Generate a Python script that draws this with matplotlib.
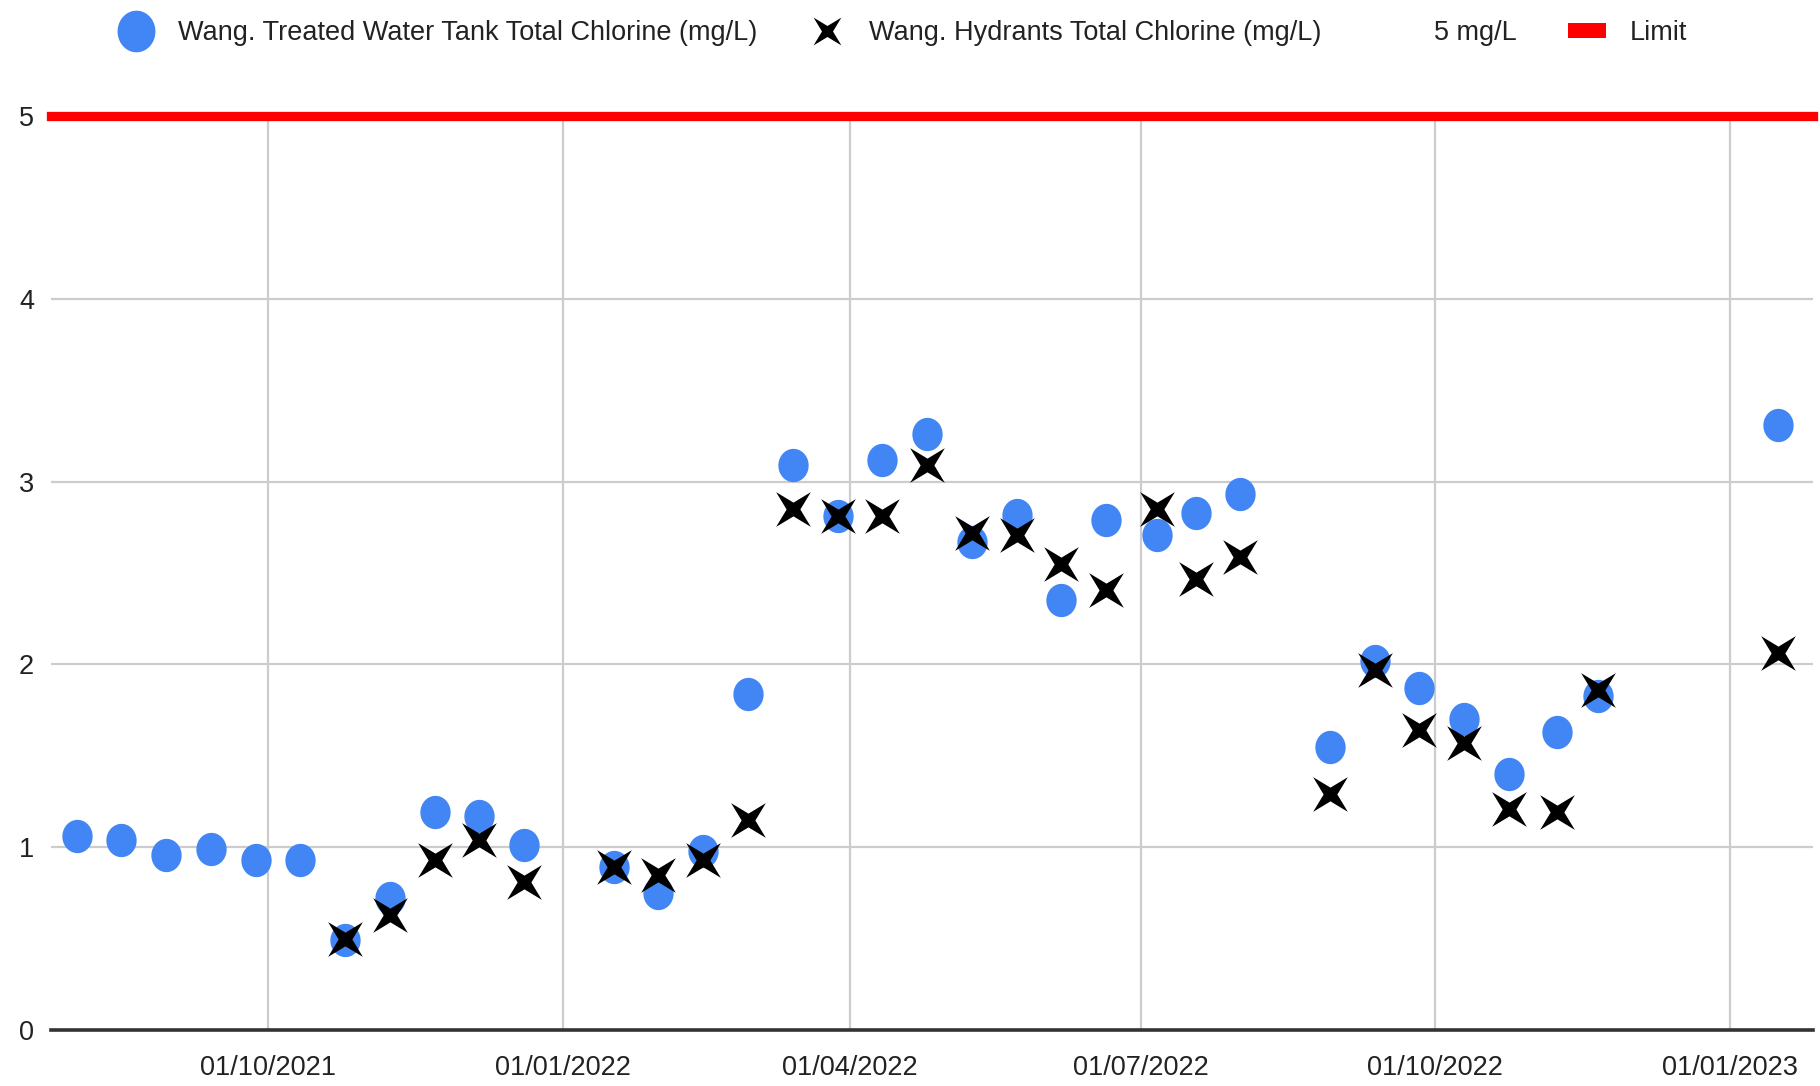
import numpy as np
import pandas as pd
import matplotlib
matplotlib.use("Agg")
import matplotlib.pyplot as plt
import matplotlib.dates as mdates
from matplotlib.path import Path
from matplotlib.lines import Line2D
from matplotlib.patches import Patch

plt.rcParams['font.family'] = ['Liberation Sans', 'DejaVu Sans']

# ---------------- data ----------------
sample_dates = [
    "2021-08-02", "2021-08-16", "2021-08-30", "2021-09-13", "2021-09-27",
    "2021-10-11", "2021-10-25", "2021-11-08", "2021-11-22", "2021-12-06",
    "2021-12-20", "2022-01-17", "2022-01-31", "2022-02-14", "2022-02-28",
    "2022-03-14", "2022-03-28", "2022-04-11", "2022-04-25", "2022-05-09",
    "2022-05-23", "2022-06-06", "2022-06-20", "2022-07-06", "2022-07-18",
    "2022-08-01", "2022-08-29", "2022-09-12", "2022-09-26", "2022-10-10",
    "2022-10-24", "2022-11-08", "2022-11-21", "2023-01-16",
]
tank_chlorine = [
    1.06, 1.04, 0.96, 0.99, 0.93,
    0.93, 0.49, 0.72, 1.19, 1.17,
    1.01, 0.89, 0.75, 0.98, 1.84,
    3.09, 2.81, 3.12, 3.26, 2.67,
    2.82, 2.35, 2.79, 2.71, 2.83,
    2.93, 1.55, 2.02, 1.87, 1.70,
    1.40, 1.63, 1.83, 3.31,
]
hydrant_chlorine = [
    np.nan, np.nan, np.nan, np.nan, np.nan,
    np.nan, 0.50, 0.63, 0.93, 1.04,
    0.81, 0.89, 0.85, 0.93, 1.15,
    2.85, 2.81, 2.81, 3.09, 2.72,
    2.71, 2.55, 2.41, 2.85, 2.47,
    2.59, 1.29, 1.97, 1.64, 1.57,
    1.21, 1.19, 1.86, 2.06,
]
limit_value = 5
x_ticks = ["2021-10-01", "2022-01-01", "2022-04-01", "2022-07-01", "2022-10-01", "2023-01-01"]
y_ticks = [0, 1, 2, 3, 4, 5]
x_range = ["2021-07-25", "2023-01-27"]
series_labels = ["Wang. Treated Water Tank Total Chlorine (mg/L)",
                 "Wang. Hydrants Total Chlorine (mg/L)", "5 mg/L", "Limit"]

dates = pd.to_datetime(sample_dates)

# ---------------- styles ----------------
BLUE = "#4285F4"
RED = "#FF0000"
GRID = "#CCCCCC"
TEXT = "#222222"
FS = 19.5

# 4-point star "X" marker
r_in = 0.28
verts = []
for k in range(4):
    a_tip = np.deg2rad(45 + 90 * k)
    a_in = np.deg2rad(90 + 90 * k)
    verts.append((np.cos(a_tip), np.sin(a_tip)))
    verts.append((r_in * np.cos(a_in), r_in * np.sin(a_in)))
verts.append(verts[0])
codes = [Path.MOVETO] + [Path.LINETO] * (len(verts) - 2) + [Path.CLOSEPOLY]
star_x = Path(verts, codes)

# slightly tall ellipse marker
th = np.linspace(0, 2 * np.pi, 61)
ell = Path(np.column_stack([np.cos(th), 1.1 * np.sin(th)]), closed=True)

fig = plt.figure(figsize=(18.2, 10.86), dpi=100)
ax = fig.add_axes([0.028, 0.0516, 0.968, 0.8414])

ax.plot(dates, tank_chlorine, linestyle="none", marker=ell, markersize=24,
        markerfacecolor=BLUE, markeredgecolor=BLUE, markeredgewidth=0, zorder=3)
ax.plot(dates, hydrant_chlorine, linestyle="none", marker=star_x, markersize=25,
        markerfacecolor="black", markeredgewidth=0, zorder=4)
ax.axhline(limit_value, color=RED, linewidth=6.7, zorder=5, clip_on=False)

ax.set_xlim(pd.to_datetime(x_range[0]), pd.to_datetime(x_range[1]))
ax.set_ylim(0, 5)
ax.set_yticks(y_ticks)
ax.set_yticklabels([str(v) for v in y_ticks])
ax.set_xticks(pd.to_datetime(x_ticks))
ax.xaxis.set_major_formatter(mdates.DateFormatter("%d/%m/%Y"))

ax.grid(True, color=GRID, linewidth=1.6, zorder=1)
ax.set_axisbelow(True)
for s in ["top", "right", "left"]:
    ax.spines[s].set_visible(False)
ax.spines["bottom"].set_color("#333333")
ax.spines["bottom"].set_linewidth(2.6)
ax.spines["bottom"].set_zorder(6)
ax.tick_params(axis="both", length=0, labelsize=FS, labelcolor=TEXT)
ax.tick_params(axis="x", pad=18)
for lbl in ax.get_yticklabels():
    lbl.set_horizontalalignment("left")
ax.tick_params(axis="y", pad=23)

handles = [
    Line2D([], [], linestyle="none", marker=ell, markersize=30, markerfacecolor=BLUE,
           markeredgewidth=0),
    Line2D([], [], linestyle="none", marker=star_x, markersize=20, markerfacecolor="black",
           markeredgewidth=0),
    Line2D([], [], linestyle="none", marker=None),
    Patch(facecolor=RED, edgecolor="none"),
]
leg = fig.legend(handles, series_labels, loc="upper center", bbox_to_anchor=(0.4955, 0.999),
                 ncol=4, frameon=False, fontsize=FS, handlelength=1.4, handleheight=0.5,
                 handletextpad=0.85, columnspacing=1.9, borderaxespad=0.3)
for t in leg.get_texts():
    t.set_color(TEXT)

fig.savefig("out.png", dpi=100)
